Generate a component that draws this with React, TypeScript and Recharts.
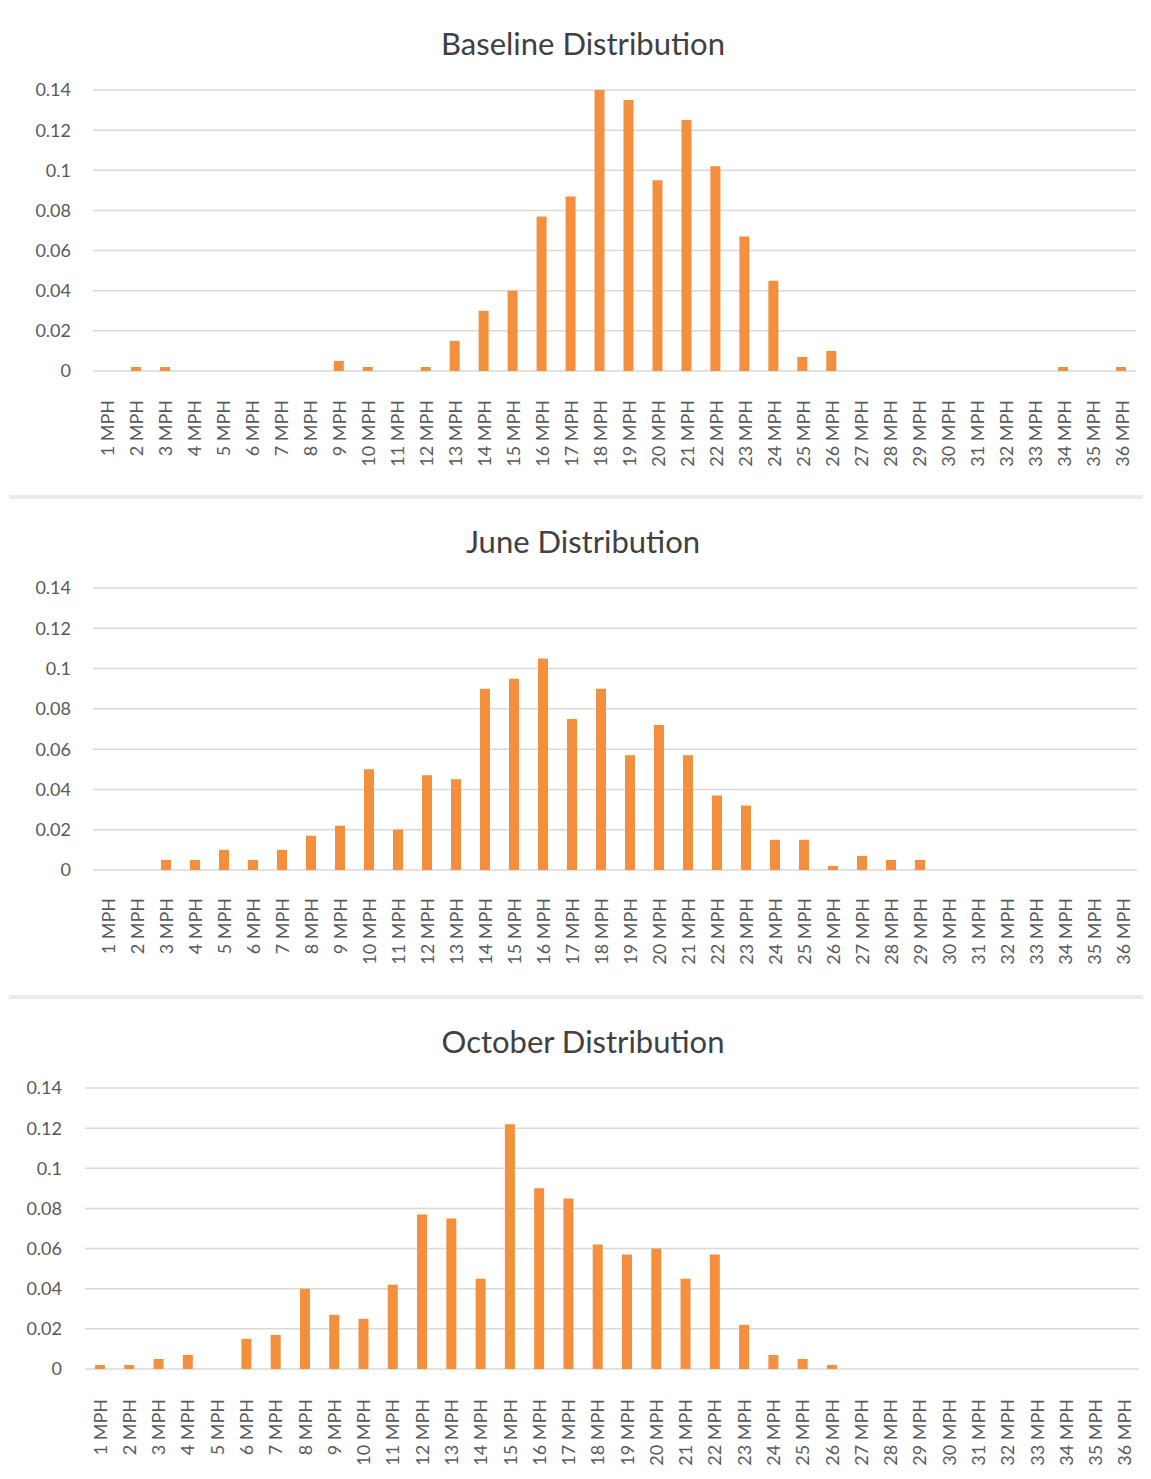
import React from "react";
import { Bar, BarChart, CartesianGrid, XAxis, YAxis } from "recharts";

const speeds = [
  "1 MPH", "2 MPH", "3 MPH", "4 MPH", "5 MPH", "6 MPH", "7 MPH", "8 MPH", "9 MPH",
  "10 MPH", "11 MPH", "12 MPH", "13 MPH", "14 MPH", "15 MPH", "16 MPH", "17 MPH", "18 MPH",
  "19 MPH", "20 MPH", "21 MPH", "22 MPH", "23 MPH", "24 MPH", "25 MPH", "26 MPH", "27 MPH",
  "28 MPH", "29 MPH", "30 MPH", "31 MPH", "32 MPH", "33 MPH", "34 MPH", "35 MPH", "36 MPH",
];

const baseline = [
  0, 0.002, 0.002, 0, 0, 0, 0, 0, 0.005, 0.002, 0, 0.002, 0.015, 0.03, 0.04, 0.077, 0.087, 0.14,
  0.135, 0.095, 0.125, 0.102, 0.067, 0.045, 0.007, 0.01, 0, 0, 0, 0, 0, 0, 0, 0.002, 0, 0.002,
];

const june = [
  0, 0, 0.005, 0.005, 0.01, 0.005, 0.01, 0.017, 0.022, 0.05, 0.02, 0.047, 0.045, 0.09, 0.095, 0.105, 0.075, 0.09,
  0.057, 0.072, 0.057, 0.037, 0.032, 0.015, 0.015, 0.002, 0.007, 0.005, 0.005, 0, 0, 0, 0, 0, 0, 0,
];

const october = [
  0.002, 0.002, 0.005, 0.007, 0, 0.015, 0.017, 0.04, 0.027, 0.025, 0.042, 0.077, 0.075, 0.045, 0.122, 0.09, 0.085, 0.062,
  0.057, 0.06, 0.045, 0.057, 0.022, 0.007, 0.005, 0.002, 0, 0, 0, 0, 0, 0, 0, 0, 0, 0,
];

const yTicks = [0, 0.02, 0.04, 0.06, 0.08, 0.1, 0.12, 0.14];

const FONT = "Lato, 'Open Sans', sans-serif";
const TEXT = "#595959";
const ORANGE = "#F38F3D";
const W = 1151;

interface ChartProps {
  title: string;
  values: number[];
  top: number;
  height: number;
  titleY: number;
  plotTop: number;
  plotBottom: number;
  plotLeft: number;
  plotRight: number;
  labelRight: number;
  labelGap: number;
}

// rotated category label, reads bottom-to-top and hangs below the axis
function SpeedTick(props: any) {
  const { x, y, payload } = props;
  return (
    <text
      x={x}
      y={y}
      transform={`rotate(-90, ${x}, ${y})`}
      textAnchor="end"
      dominantBaseline="central"
      fill={TEXT}
      fontSize={18}
      fontFamily={FONT}
    >
      {payload.value}
    </text>
  );
}

function DistributionChart(p: ChartProps) {
  const data = speeds.map((s, i) => ({ speed: s, share: p.values[i] }));
  return (
    <div style={{ position: "absolute", left: 0, top: p.top, width: W, height: p.height }}>
      <div
        style={{
          position: "absolute",
          left: 583,
          top: p.titleY,
          transform: "translate(-50%, -50%)",
          whiteSpace: "nowrap",
          fontFamily: FONT,
          fontSize: 31,
          color: "#404040",
        }}
      >
        {p.title}
      </div>
      <BarChart
        width={W}
        height={p.height}
        data={data}
        margin={{ top: p.plotTop, right: W - p.plotRight, left: 0, bottom: 0 }}
      >
        <CartesianGrid vertical={false} stroke="#d9d9d9" strokeWidth={1.5} />
        <XAxis
          dataKey="speed"
          interval={0}
          tickLine={false}
          axisLine={false}
          tickSize={0}
          tickMargin={p.labelGap}
          height={p.height - p.plotBottom}
          tick={<SpeedTick />}
        />
        <YAxis
          domain={[0, 0.14]}
          ticks={yTicks}
          width={p.plotLeft}
          tickLine={false}
          axisLine={false}
          tickSize={0}
          tickMargin={p.plotLeft - p.labelRight}
          tick={{ fontSize: 18, fill: TEXT, fontFamily: FONT }}
        />
        <Bar dataKey="share" fill={ORANGE} barSize={10} isAnimationActive={false} />
      </BarChart>
    </div>
  );
}

export default function App() {
  return (
    <div style={{ position: "relative", width: W, height: 1479, margin: -8, background: "#fff" }}>
      <DistributionChart
        title="Baseline Distribution"
        values={baseline}
        top={0}
        height={495}
        titleY={43}
        plotTop={90}
        plotBottom={371}
        plotLeft={93}
        plotRight={1136}
        labelRight={71}
        labelGap={29}
      />
      <div style={{ position: "absolute", left: 9, top: 495, width: 1142, height: 4, background: "#ebebeb" }} />
      <DistributionChart
        title="June Distribution"
        values={june}
        top={500}
        height={495}
        titleY={41}
        plotTop={88}
        plotBottom={370}
        plotLeft={93}
        plotRight={1137}
        labelRight={71}
        labelGap={28}
      />
      <div style={{ position: "absolute", left: 9, top: 995, width: 1142, height: 4, background: "#ebebeb" }} />
      <DistributionChart
        title="October Distribution"
        values={october}
        top={1000}
        height={479}
        titleY={41}
        plotTop={88}
        plotBottom={369}
        plotLeft={85}
        plotRight={1139}
        labelRight={62}
        labelGap={30}
      />
    </div>
  );
}
